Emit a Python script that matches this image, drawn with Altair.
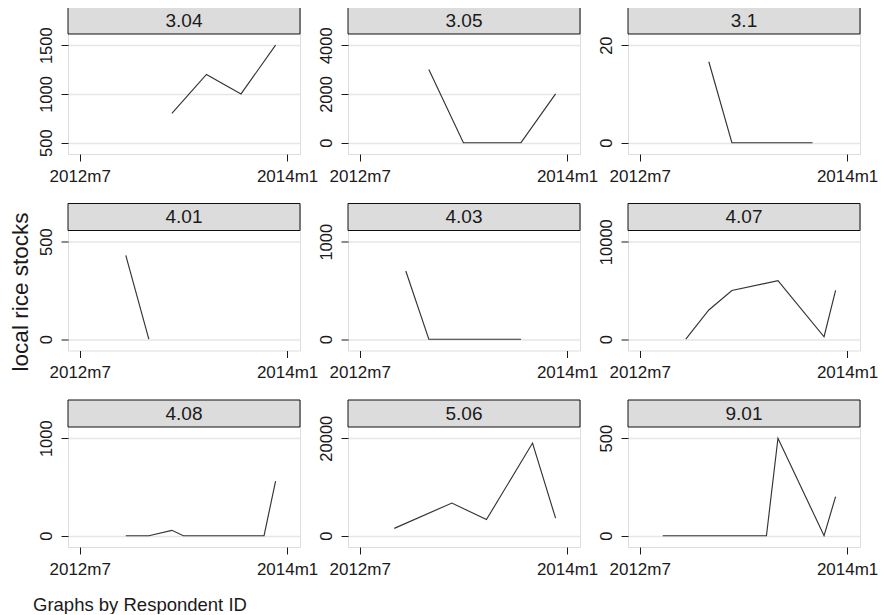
import altair as alt
import pandas as pd

FONT = "Liberation Sans"

ids = ["3.04", "3.05", "3.1", "4.01", "4.03", "4.07", "4.08", "5.06", "9.01"]

months_304 = ["2013m3", "2013m6", "2013m9", "2013m12"]
stocks_304 = [800, 1200, 1000, 1500]
yticks_304 = [500, 1000, 1500]

months_305 = ["2013m1", "2013m4", "2013m5", "2013m6", "2013m7", "2013m8", "2013m9", "2013m12"]
stocks_305 = [3000, 0, 0, 0, 0, 0, 0, 2000]
yticks_305 = [0, 2000, 4000]

months_310 = ["2013m1", "2013m3", "2013m4", "2013m5", "2013m6", "2013m7", "2013m8", "2013m9", "2013m10"]
stocks_310 = [16.6, 0, 0, 0, 0, 0, 0, 0, 0]
yticks_310 = [0, 20]

months_401 = ["2012m11", "2013m1"]
stocks_401 = [430, 0]
yticks_401 = [0, 500]

months_403 = ["2012m11", "2013m1", "2013m2", "2013m3", "2013m4", "2013m5", "2013m6", "2013m7", "2013m8", "2013m9"]
stocks_403 = [700, 0, 0, 0, 0, 0, 0, 0, 0, 0]
yticks_403 = [0, 1000]

months_407 = ["2012m11", "2013m1", "2013m3", "2013m7", "2013m11", "2013m12"]
stocks_407 = [0, 3000, 5000, 6000, 250, 5000]
yticks_407 = [0, 10000]

months_408 = ["2012m11", "2013m1", "2013m3", "2013m4", "2013m5", "2013m6", "2013m7", "2013m8", "2013m9", "2013m10", "2013m11", "2013m12"]
stocks_408 = [0, 0, 55, 0, 0, 0, 0, 0, 0, 0, 0, 560]
yticks_408 = [0, 1000]

months_506 = ["2012m10", "2013m3", "2013m6", "2013m10", "2013m12"]
stocks_506 = [1500, 6700, 3300, 19000, 3600]
yticks_506 = [0, 20000]

months_901 = ["2012m9", "2012m10", "2012m11", "2012m12", "2013m1", "2013m2", "2013m3", "2013m4", "2013m5", "2013m6", "2013m7", "2013m11", "2013m12"]
stocks_901 = [0, 0, 0, 0, 0, 0, 0, 0, 0, 0, 500, 0, 200]
yticks_901 = [0, 500]

xticks = [0, 18]  # 2012m7, 2014m1 as months since 2012m7

series = [
    (months_304, stocks_304, yticks_304),
    (months_305, stocks_305, yticks_305),
    (months_310, stocks_310, yticks_310),
    (months_401, stocks_401, yticks_401),
    (months_403, stocks_403, yticks_403),
    (months_407, stocks_407, yticks_407),
    (months_408, stocks_408, yticks_408),
    (months_506, stocks_506, yticks_506),
    (months_901, stocks_901, yticks_901),
]

W, H, HDR = 232, 147, 27
TOP_T, BOT_T = 38.2, 135.7
XDOM = [-1.016, 19.12]


def month_index(s):
    y, m = s.split("m")
    return (int(y) - 2012) * 12 + int(m) - 7


def panel(pid, months, stocks, ticks, with_title=False):
    df = pd.DataFrame({"t": [month_index(m) for m in months], "stocks": stocks})
    lo, hi = min(ticks), max(ticks)
    u = (hi - lo) / (BOT_T - TOP_T)
    dom = [lo - (H - BOT_T) * u, hi + TOP_T * u]
    yaxis_kw = dict(
        values=ticks, format="d", labelAngle=270, labelAlign="center",
        labelBaseline="alphabetic", labelPadding=10, tickSize=7,
        labelFontSize=16.5, labelFont=FONT, labelColor="#1a1a1a",
        tickColor="#1a1a1a", domain=False, grid=True, gridColor="#e6e6e6",
        gridWidth=1.3,
    )
    if with_title:
        yaxis_kw.update(
            titleFont=FONT, titleFontSize=22.5, titleFontWeight="normal",
            titleColor="#1a1a1a", titleAngle=270, titleAlign="center",
            titleBaseline="alphabetic", titleX=-41, titleY=88,
        )
    xaxis = alt.Axis(
        values=xticks,
        labelExpr="(2012 + floor((6 + datum.value) / 12)) + 'm' + ((6 + datum.value) % 12 + 1)",
        tickSize=7, labelPadding=7, labelFontSize=17, labelFont=FONT,
        labelColor="#1a1a1a", tickColor="#1a1a1a", domain=False, grid=False,
        labelFlush=False, labelOverlap=False,
    )
    line = alt.Chart(df).mark_line(color="#333333", strokeWidth=1.15).encode(
        x=alt.X("t:Q", scale=alt.Scale(domain=XDOM, nice=False, zero=False), axis=xaxis, title=None),
        y=alt.Y("stocks:Q", scale=alt.Scale(domain=dom, nice=False, zero=False),
                axis=alt.Axis(**yaxis_kw),
                title="local rice stocks" if with_title else None),
    )
    hdr = pd.DataFrame({"id": [pid]})
    rect = alt.Chart(hdr).mark_rect(fill="#dcdcdc", stroke="#111111", strokeWidth=1).encode(
        x=alt.value(0), x2=alt.value(W), y=alt.value(0), y2=alt.value(HDR)
    )
    text = alt.Chart(hdr).mark_text(
        fontSize=19, font=FONT, baseline="alphabetic", align="center", color="#1a1a1a"
    ).encode(x=alt.value(W / 2), y=alt.value(19.8), text="id:N")
    return alt.layer(line, rect, text).properties(width=W, height=H)


panels = [
    panel(pid, m, s, t, with_title=(i == 3))
    for i, (pid, (m, s, t)) in enumerate(zip(ids, series))
]

chart = alt.ConcatChart(
    concat=panels,
    columns=3,
    spacing={"row": 49.5, "column": 48},
    bounds="flush",
    title=alt.TitleParams(
        "Graphs by Respondent ID", orient="bottom", anchor="start", frame="group",
        font=FONT, fontSize=18.5, fontWeight="normal", color="#1a1a1a", dx=-35, offset=18,
    ),
    padding={"left": 0, "top": -2, "right": 0, "bottom": 0},
).configure_view(stroke="#111111", strokeWidth=1).configure(background="white")

chart.save("out.html", embed_options={"renderer": "svg", "actions": False})
